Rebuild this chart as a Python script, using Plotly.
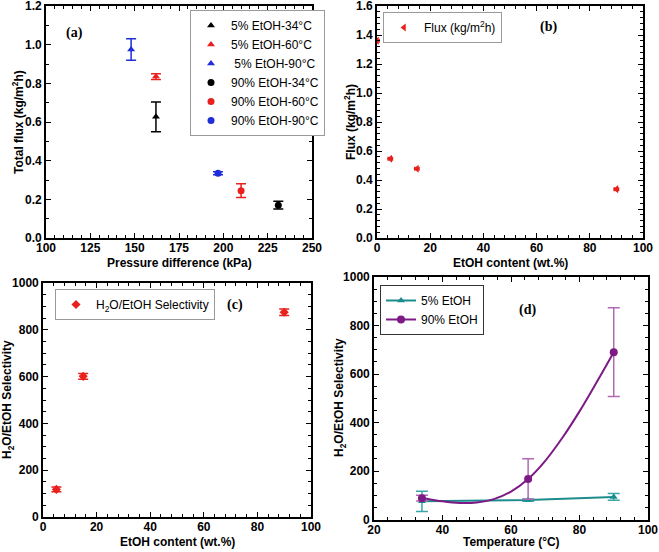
import plotly.graph_objects as go

# ---------- data ----------
# (a) total flux vs pressure difference
a_names = ["5% EtOH-34°C", "5% EtOH-60°C", " 5% EtOH-90°C",
           "90% EtOH-34°C", "90% EtOH-60°C", "90% EtOH-90°C"]
a_dp = [162, 162, 148, 231, 210, 197]
a_flux = [0.627, 0.835, 0.975, 0.17, 0.245, 0.335]
a_err = [0.077, 0.015, 0.055, 0.02, 0.035, 0.008]
a_colors = ["black", "#e8201e", "#1f2fd8", "black", "#e8201e", "#1f2fd8"]
a_symbols = ["triangle-up", "triangle-up", "triangle-up", "circle", "circle", "circle"]

# (b) flux vs EtOH content
b_etoh = [0, 5, 15, 90]
b_flux = [1.36, 0.547, 0.478, 0.337]

# (c) selectivity vs EtOH content
c_etoh = [5, 15, 90]
c_sel = [118, 601, 875]
c_err = [10, 12, 14]

# (d) selectivity vs temperature
d_temp = [34, 65, 90]
d_sel5 = [75, 80, 93]
d_err5 = [42, 5, 14]
d_sel90 = [88, 167, 690]
d_err90 = [12, 84, 183]
# fitted curve of 90% EtOH
d_fit_t = [34, 35, 40, 45, 50, 55, 60, 65, 70, 75, 80, 85, 90]
d_fit_s = [90, 87, 75, 68, 70, 84, 115, 167, 242, 337, 446, 566, 690]

FONT = "Liberation Sans"

fig = go.Figure()

# ---------- (a) ----------
for n, x, y, e, c, s in zip(a_names, a_dp, a_flux, a_err, a_colors, a_symbols):
    fig.add_trace(go.Scatter(
        x=[x], y=[y], name=n, mode="markers",
        marker=dict(symbol=s, size=7, color=c),
        error_y=dict(type="data", array=[e], color=c, thickness=1.5, width=5),
        xaxis="x", yaxis="y", legend="legend"))

# ---------- (b) ----------
fig.add_trace(go.Scatter(
    x=b_etoh, y=b_flux, name="Flux (kg/m<sup>2</sup>h)", mode="markers",
    marker=dict(symbol="triangle-left", size=7, color="#e8201e"),
    error_x=dict(type="constant", value=0.8, color="#e8201e", thickness=1.5, width=2),
    xaxis="x2", yaxis="y2", legend="legend2"))

# ---------- (c) ----------
fig.add_trace(go.Scatter(
    x=c_etoh, y=c_sel, name="H<sub>2</sub>O/EtOH Selectivity", mode="markers",
    marker=dict(symbol="diamond", size=7, color="#e8201e"),
    error_y=dict(type="data", array=c_err, color="#e8201e", thickness=1.5, width=5),
    xaxis="x3", yaxis="y3", legend="legend3"))

# ---------- (d) ----------
TEAL = "#1c8c8c"
PURP = "#7e1a86"
fig.add_trace(go.Scatter(
    x=d_temp, y=d_sel5, name="5% EtOH", mode="lines+markers",
    line=dict(color=TEAL, width=2),
    marker=dict(symbol="triangle-up", size=7, color=TEAL),
    error_y=dict(type="data", array=d_err5, color="#3aa6a6", thickness=1.5, width=6),
    xaxis="x4", yaxis="y4", legend="legend4"))
fig.add_trace(go.Scatter(
    x=d_fit_t, y=d_fit_s, mode="lines", showlegend=False,
    line=dict(color=PURP, width=2, shape="spline"),
    xaxis="x4", yaxis="y4", hoverinfo="skip"))
fig.add_trace(go.Scatter(
    x=d_temp, y=d_sel90, mode="markers", showlegend=False,
    marker=dict(symbol="circle", size=8, color=PURP),
    error_y=dict(type="data", array=d_err90, color="#b06ab4", thickness=1.5, width=6),
    xaxis="x4", yaxis="y4"))
fig.add_trace(go.Scatter(
    x=[None], y=[None], name="90% EtOH", mode="lines+markers",
    line=dict(color=PURP, width=2),
    marker=dict(symbol="circle", size=8, color=PURP),
    xaxis="x4", yaxis="y4", legend="legend4"))

W, H = 659, 552


def ax(domain, rng, dtick, minor, anchor, fmt=None, standoff=0):
    d = dict(
        domain=domain, range=rng, dtick=dtick, tick0=rng[0], anchor=anchor,
        automargin=False, ticklabeloverflow="allow", ticklabelstandoff=standoff,
        showline=True, linewidth=1.6, linecolor="black", mirror="ticks",
        ticks="inside", ticklen=5, tickwidth=1.2, tickcolor="black",
        minor=dict(dtick=minor, ticks="inside", ticklen=3, tickwidth=1, tickcolor="black"),
        showgrid=False, zeroline=False,
        tickprefix="<b>", ticksuffix="</b>",
        tickfont=dict(family=FONT, size=12, color="black"),
    )
    if fmt:
        d["tickformat"] = fmt
    return d


def xd(l, r):
    return [l / W, r / W]


def yd(b, t):
    return [1 - b / H, 1 - t / H]


legend_common = dict(
    bgcolor="white", bordercolor="#9a9a9a", borderwidth=1,
    font=dict(family=FONT, size=12, color="black"),
    xanchor="left", yanchor="top", itemclick=False, tracegroupgap=0,
    itemwidth=30,
)

fig.update_layout(
    width=W, height=H, paper_bgcolor="white", plot_bgcolor="white",
    margin=dict(l=0, r=0, t=0, b=0),
    xaxis=ax(xd(46, 312), [100, 250], 25, 5, "y", standoff=-2),
    yaxis=ax(yd(238, 6), [0, 1.2], 0.2, 0.1, "x", ".1f"),
    xaxis2=ax(xd(377, 643), [0, 100], 20, 4, "y2", standoff=-2),
    yaxis2=ax(yd(238, 6), [0, 1.6], 0.2, 0.04, "x2", ".1f"),
    xaxis3=ax(xd(43, 311), [0, 100], 20, 4, "y3", standoff=-2),
    yaxis3=ax(yd(517, 283), [0, 1000], 200, 50, "x3"),
    xaxis4=ax(xd(374, 648), [20, 100], 20, 4, "y4", standoff=-2),
    yaxis4=ax(yd(519.5, 277), [0, 1000], 200, 50, "x4"),
    legend=dict(legend_common, x=190 / W, y=1 - 10 / H),
    legend2=dict(legend_common, x=383 / W, y=1 - 12 / H),
    legend3=dict(legend_common, x=55 / W, y=1 - 289 / H),
    legend4=dict(legend_common, x=380 / W, y=1 - 285 / H, bordercolor="#333333"),
    showlegend=True,
)

labels = [("(a)", 74, 33), ("(b)", 548, 27), ("(c)", 235, 305), ("(d)", 527, 310)]
for t, px, py in labels:
    fig.add_annotation(
        text="<b>" + t + "</b>", x=px / W, y=1 - py / H, xref="paper", yref="paper",
        showarrow=False, xanchor="center", yanchor="middle",
        font=dict(family="Liberation Serif", size=14, color="black"))

titles = [
    ("Pressure difference (kPa)", 180, 263, 0),
    ("Total flux (kg/m<sup>2</sup>h)", 18, 122, -90),
    ("EtOH content (wt.%)", 510, 263, 0),
    ("Flux (kg/m<sup>2</sup>h)", 350, 122, -90),
    ("EtOH content (wt.%)", 177, 542, 0),
    ("H<sub>2</sub>O/EtOH Selectivity", 8, 400, -90),
    ("Temperature (°C)", 511, 542, 0),
    ("H<sub>2</sub>O/EtOH Selectivity", 340, 398, -90),
]
for t, px, py, rot in titles:
    fig.add_annotation(
        text="<b>" + t + "</b>", x=px / W, y=1 - py / H, xref="paper", yref="paper",
        showarrow=False, xanchor="center", yanchor="middle", textangle=rot,
        font=dict(family=FONT, size=12, color="black"))

fig.write_html("out.html", config={"displayModeBar": False},
               post_script="document.body.style.margin='0px';")
